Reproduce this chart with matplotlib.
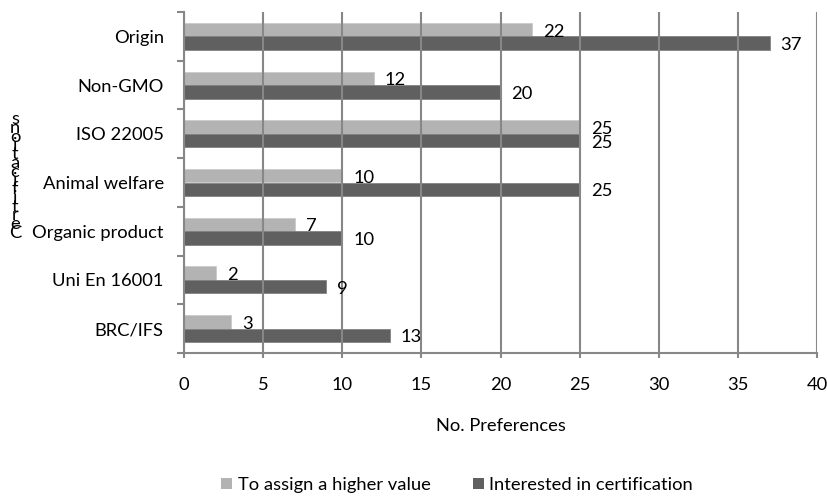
import matplotlib
matplotlib.use("Agg")
import matplotlib.pyplot as plt
from matplotlib.patches import Patch
import numpy as np

categories = ["Origin", "Non-GMO", "ISO 22005", "Animal welfare",
              "Organic product", "Uni En 16001", "BRC/IFS"]
higher_value = [22, 12, 25, 10, 7, 2, 3]
interested = [37, 20, 25, 25, 10, 9, 13]
series_names = ["To assign a higher value", "Interested in certification"]
x_ticks = [0, 5, 10, 15, 20, 25, 30, 35, 40]

plt.rcParams['font.family'] = ['Lato', 'DejaVu Sans']
FS = 13.2
LIGHT = "#b3b3b3"
DARK = "#606060"
GRID = "#878787"
TXT = "#000000"

fig = plt.figure(figsize=(8.27, 4.97), dpi=100)
ax = fig.add_axes([184/827, 1-353/497, (817-184)/827, (353-12)/497])

n = len(categories)
ypos = np.arange(n)[::-1]
h = 0.275
ax.barh(ypos + 0.14, higher_value, height=h, color=LIGHT, edgecolor="#c8c8c8", linewidth=0.5, zorder=2)
ax.barh(ypos - 0.14, interested, height=h, color=DARK, edgecolor="#7a7a7a", linewidth=0.5, zorder=2)

for y, v in zip(ypos, higher_value):
    ax.annotate(str(v), (v, y + 0.14), xytext=(11, -2), textcoords='offset pixels',
                ha='left', va='center', fontsize=FS, color=TXT, zorder=4)
for y, v in zip(ypos, interested):
    ax.annotate(str(v), (v, y - 0.14), xytext=(11, -2), textcoords='offset pixels',
                ha='left', va='center', fontsize=FS, color=TXT, zorder=4)

ax.set_xlim(0, 40)
ax.set_ylim(-0.5, n - 0.5)
ax.set_xticks(x_ticks)
ax.set_xticklabels([str(t) for t in x_ticks], fontsize=FS, color=TXT)
ax.set_yticks(np.arange(-0.5, n, 1.0))
ax.set_yticklabels([])
ax.set_yticks(ypos, minor=True)
ax.set_yticklabels(categories, minor=True, fontsize=FS, color=TXT)

ax.tick_params(axis='x', which='major', direction='out', length=3.6, width=1.5,
               color=GRID, pad=14)
ax.tick_params(axis='y', which='major', direction='out', length=5, width=1.5, color=GRID)
ax.tick_params(axis='y', which='minor', length=0, pad=14.5)

ax.grid(axis='x', color=GRID, linewidth=1.5, zorder=3)
ax.set_axisbelow(False)
for s in ['top', 'right']:
    ax.spines[s].set_visible(False)
for s in ['left', 'bottom']:
    ax.spines[s].set_color(GRID)
    ax.spines[s].set_linewidth(1.5)
    ax.spines[s].set_zorder(3)

ax.set_xlabel("No. Preferences", fontsize=FS, color=TXT)
ax.xaxis.set_label_coords(0.5, -0.19)
ax.xaxis.label.set_va('top')

# Stacked y-axis title as in the reference
ylab = "Certifications"
fig.text(15/827, 1-176/497, "\n".join(reversed(ylab)), fontsize=FS, color=TXT,
         ha='center', va='center', linespacing=0.44)

handles = [Patch(facecolor=LIGHT, edgecolor='none'), Patch(facecolor=DARK, edgecolor='none')]
fig.legend(handles, series_names, loc='center', bbox_to_anchor=(457/827, 1-485/497),
           ncol=2, frameon=False, fontsize=FS, handlelength=0.6, handleheight=0.6,
           handletextpad=0.3, columnspacing=2.3, labelcolor=TXT)

fig.savefig("out.png", dpi=100)
